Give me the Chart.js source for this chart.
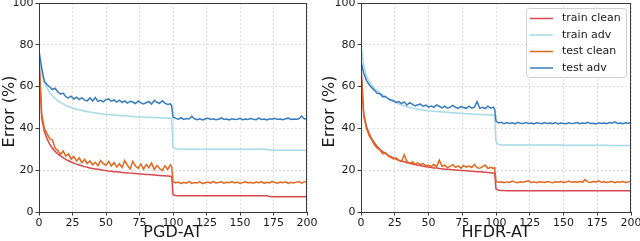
<!DOCTYPE html>
<html>
<head>
<meta charset="utf-8">
<script src="https://cdn.jsdelivr.net/npm/chart.js@4.4.0/dist/chart.umd.min.js"></script>
<style>
  html, body { margin: 0; padding: 0; background: #fff; }
  #wrap { position: relative; width: 640px; height: 241px; }
  #wrap canvas { position: absolute; top: 0; }
</style>
</head>
<body>
<div id="wrap">
  <canvas id="chartPgd" width="320" height="241" style="left:0"></canvas>
  <canvas id="chartHfdr" width="320" height="241" style="left:320px"></canvas>
</div>
<script>
// epochs (every 2, plus 99 just before the lr drop)
const EPOCHS = [0,2,4,6,8,10,12,14,16,18,20,22,24,26,28,30,32,34,36,38,40,42,44,46,48,50,52,54,56,58,60,62,64,66,68,70,72,74,76,78,80,82,84,86,88,90,92,94,96,98,99,
  100,102,104,106,108,110,112,114,116,118,120,122,124,126,128,130,132,134,136,138,140,142,144,146,148,150,152,154,156,158,160,162,164,166,168,170,172,174,176,178,180,182,184,186,188,190,192,194,196,198,200];

const SERIES_NAMES = ['train clean', 'train adv', 'test clean', 'test adv'];
const X_TICKS = [0, 25, 50, 75, 100, 125, 150, 175, 200];
const Y_TICKS = [0, 20, 40, 60, 80, 100];

// PGD-AT
const pgdTrainClean = [74,45,38.5,35,32.5,30.5,29,27.8,26.8,26,
  25.2,24.5,23.9,23.4,22.9,22.5,22.1,21.7,21.4,21.1,
  20.8,20.6,20.4,20.2,20,19.8,19.6,19.5,19.3,19.2,
  19.1,18.9,18.8,18.7,18.6,18.5,18.4,18.3,18.2,18.1,
  18,17.9,17.8,17.7,17.6,17.5,17.4,17.3,17.2,17.1,17.0,
  8.2,7.9,7.8,7.8,7.8,7.8,7.8,7.8,7.8,7.8,
  7.8,7.8,7.8,7.8,7.8,7.8,7.8,7.8,7.8,7.8,
  7.8,7.8,7.8,7.8,7.8,7.8,7.8,7.8,7.8,7.8,
  7.8,7.8,7.8,7.8,7.8,7.8,7.4,7.3,7.3,7.3,
  7.3,7.3,7.3,7.3,7.3,7.3,7.3,7.3,7.3,7.3,7.3];
const pgdTrainAdv = [76,66,62,59.3,57.2,55.6,54.3,53.3,52.4,51.7,
  51,50.5,50,49.6,49.2,48.9,48.6,48.3,48,47.8,
  47.6,47.4,47.2,47,46.9,46.7,46.6,46.5,46.4,46.3,
  46.2,46.1,46,45.9,45.8,45.7,45.6,45.5,45.5,45.4,
  45.3,45.3,45.2,45.2,45.1,45.1,45,45,45,44.9,44.9,
  31,30.2,30.1,30.1,30,30,30,30,30,30,
  30,30,30,30,30,30,30,30,30,30,
  30,30,30,30,30,30,30,30,30,30,
  30,30,30,30,30,30,29.6,29.5,29.5,29.5,
  29.5,29.5,29.5,29.5,29.5,29.5,29.5,29.5,29.5,29.5,29.5];
const pgdTestClean = [72,47,40,37.5,35,34.5,30.5,29.5,27.5,29.2,
  26.8,27.8,25.3,26.6,24.4,25.9,23.6,25.2,23.2,24.4,
  22.6,23.8,22.2,24.6,23.1,22.4,24.2,22.0,23.6,21.5,
  23.1,21.3,24.6,22.3,20.6,24.3,22.0,20.9,23.0,20.5,
  22.7,21.2,23.5,20.3,22.3,20.8,19.9,22.1,20.4,22.6,21.8,
  14.6,13.9,14.3,13.6,14.2,13.8,14.5,13.7,14.1,13.9,
  14.4,13.6,14.0,14.3,13.8,14.6,13.9,14.1,14.5,13.8,
  14.2,14.0,14.6,13.9,14.3,13.7,14.1,14.4,13.9,14.2,
  13.8,14.3,14.0,14.5,13.7,14.2,13.9,14.6,14.1,13.8,
  14.3,14.0,14.4,13.7,14.2,13.9,14.3,14.6,13.8,14.4,14.6];
const pgdTestAdv = [77,69,62.5,61,59.8,58.6,59.2,57.5,56.4,56.9,
  55.2,54.6,55.4,54.1,54.9,53.8,54.7,53.5,53.2,54.6,
  53.1,54.8,52.9,53.4,52.7,53.9,54.1,53.0,53.6,52.6,
  53.5,52.4,53.2,52.1,53.0,52.6,51.9,53.1,52.2,51.7,
  52.3,52.8,51.6,53.4,52.5,52.0,53.2,52.1,51.5,51.8,50.8,
  45.5,44.8,44.4,45.1,44.3,44.7,44.5,45.8,44.6,44.2,
  44.6,44.1,44.5,44.9,44.3,44.6,44.2,44.4,45.0,44.3,
  44.5,44.1,44.6,44.3,44.4,44.8,44.2,44.5,44.3,44.7,
  44.4,44.2,44.9,44.3,44.5,44.1,44.6,44.4,44.8,44.3,
  44.5,44.2,44.6,44.9,44.3,44.5,44.4,44.6,45.9,44.5,44.7];

// HFDR-AT
const hfdrTrainClean = [70,47,41,37.5,35,33,31.3,30,28.9,28,
  27.2,26.5,25.9,25.3,24.8,24.4,24,23.6,23.3,23,
  22.7,22.4,22.2,21.9,21.7,21.5,21.3,21.1,21,20.8,
  20.7,20.5,20.4,20.3,20.2,20.1,20,19.9,19.8,19.7,
  19.6,19.5,19.4,19.3,19.2,19.1,19,18.9,18.8,18.7,18.6,
  11.0,10.4,10.3,10.3,10.2,10.2,10.2,10.2,10.2,10.2,
  10.2,10.2,10.2,10.2,10.2,10.2,10.2,10.2,10.2,10.2,
  10.2,10.2,10.2,10.2,10.2,10.2,10.2,10.2,10.2,10.2,
  10.2,10.2,10.2,10.2,10.2,10.2,10.2,10.2,10.2,10.2,
  10.2,10.2,10.2,10.2,10.2,10.2,10.2,10.2,10.2,10.2,10.2];
const hfdrTrainAdv = [80,70,65,62.5,60.6,59.1,58,57,56,55.2,
  54.4,53.7,53,52.3,51.7,51.2,50.8,50.4,50,49.7,
  49.4,49.2,49,48.8,48.6,48.5,48.3,48.2,48.1,48,
  47.9,47.8,47.7,47.6,47.5,47.4,47.3,47.2,47.1,47,
  46.9,46.9,46.8,46.7,46.7,46.6,46.5,46.5,46.4,46.3,46.2,
  33.5,32.3,32.1,32.0,32.0,32.0,32.0,32.0,32.0,32.0,
  32.0,32.0,32.0,32.0,32.0,32.0,32.0,32.0,32.0,32.0,
  32.0,32.0,32.0,32.0,32.0,31.9,31.9,31.9,31.9,31.9,
  31.9,31.9,31.9,31.9,31.9,31.9,31.9,31.9,31.9,31.9,
  31.9,31.9,31.8,31.8,31.8,31.8,31.8,31.8,31.8,31.8,31.8];
const hfdrTestClean = [68,46,40,36.5,34.5,32,30.5,29.8,28,28.5,
  26.8,26.2,25.4,25.9,24.6,24.2,27.4,24.1,23.3,24.0,
  22.9,23.5,22.6,23.2,22.1,22.4,21.8,22.7,21.6,24.8,
  21.9,22.4,21.2,21.8,22.6,21.4,22.1,21.0,22.3,21.5,
  22.0,21.3,22.8,21.2,20.9,21.7,22.5,20.8,21.4,20.9,21.2,
  14.6,14.2,14.5,14.0,14.4,14.1,14.8,14.3,14.0,14.5,
  14.2,14.6,14.9,14.1,14.4,14.0,14.5,14.3,14.1,14.6,
  14.3,14.0,14.5,14.2,14.6,14.1,14.4,14.8,14.2,14.5,
  14.3,14.6,14.2,15.5,14.4,14.1,14.6,14.3,14.9,14.2,
  14.5,14.1,14.4,14.7,14.0,14.5,14.2,14.6,14.1,14.3,14.8];
const hfdrTestAdv = [72,66.5,63,61,59.5,58.2,56.8,56.6,55.2,55.3,
  54.2,53.6,53.2,52.4,52.8,51.9,52.7,51.2,52.3,51.6,
  50.8,51.3,51.6,50.6,51.1,50.2,50.7,50.1,51.2,50.6,
  49.8,50.6,49.7,50.2,51.0,50.1,49.6,50.5,50.0,49.6,
  50.6,49.7,50.2,52.8,49.6,50.1,49.5,50.6,49.7,50.2,49.2,
  43.5,42.6,42.9,42.3,42.8,42.4,42.7,42.2,42.9,42.5,
  42.3,42.8,42.4,42.6,42.1,42.7,42.5,42.2,42.8,42.4,
  42.6,42.3,42.8,42.1,42.6,42.4,42.2,42.7,42.3,42.5,
  42.8,42.2,42.6,42.4,42.9,42.3,42.5,42.1,42.7,42.4,
  42.6,42.3,42.8,42.5,43.1,42.4,42.6,42.2,42.7,42.5,42.8];

const COLORS = ['#d6494e', '#a6dae8', '#e3671f', '#387cbf'];
const FONT = 'DejaVu Sans';
const TEXT_COLOR = '#1a1a1a';
const Y_TITLE = 'Error (%)';

// box around the plot area, like matplotlib spines
const framePlugin = {
    id: 'frame',
    afterDatasetsDraw(chart) {
        const { ctx, chartArea: a } = chart;
        ctx.save();
        ctx.strokeStyle = '#3a3a3a';
        ctx.lineWidth = 1;
        ctx.strokeRect(Math.round(a.left) + 0.5, Math.round(a.top) + 0.5,
            Math.round(a.right - a.left) - 1, Math.round(a.bottom - a.top));
        ctx.restore();
    }
};

// y axis title, sits a bit below the plot centre in the original
const yTitlePlugin = {
    id: 'yTitle',
    afterDraw(chart) {
        const { ctx, chartArea: a } = chart;
        ctx.save();
        ctx.translate(9.5, (a.top + a.bottom) / 2 + 4);
        ctx.rotate(-Math.PI / 2);
        ctx.font = '16px "' + FONT + '"';
        ctx.fillStyle = TEXT_COLOR;
        ctx.textAlign = 'center';
        ctx.textBaseline = 'middle';
        ctx.fillText(Y_TITLE, 0, 0);
        ctx.restore();
    }
};

// legend drawn inside the plot, upper right
const innerLegendPlugin = {
    id: 'innerLegend',
    afterDraw(chart, args, opts) {
        if (!opts.show) return;
        const { ctx, chartArea: a } = chart;
        const w = 100, h = 69;
        const x = a.right - 5 - w, y = a.top + 5;
        ctx.save();
        ctx.beginPath();
        ctx.roundRect(x + 0.5, y + 0.5, w, h, 3);
        ctx.fillStyle = 'rgba(255,255,255,0.85)';
        ctx.fill();
        ctx.strokeStyle = '#d0d0d0';
        ctx.lineWidth = 1;
        ctx.stroke();
        ctx.font = '11px "' + FONT + '"';
        ctx.textBaseline = 'middle';
        ctx.textAlign = 'left';
        chart.data.datasets.forEach((ds, i) => {
            const rowY = y + 10.5 + i * 16.5;
            ctx.strokeStyle = ds.borderColor;
            ctx.lineWidth = 1.5;
            ctx.beginPath();
            ctx.moveTo(x + 4, rowY);
            ctx.lineTo(x + 27, rowY);
            ctx.stroke();
            ctx.fillStyle = TEXT_COLOR;
            ctx.fillText(ds.label, x + 36, rowY);
        });
        ctx.restore();
    }
};

function makeDatasets(series) {
    return SERIES_NAMES.map((name, i) => ({
        label: name,
        data: EPOCHS.map((e, j) => ({ x: e, y: series[i][j] })),
        borderColor: COLORS[i],
        backgroundColor: COLORS[i],
        borderWidth: 1.5,
        pointRadius: 0,
        tension: 0,
        order: 3 - i
    }));
}

function buildChart(canvasId, title, series, box, showLegend) {
    const tickFont = { family: FONT, size: 11 };
    const titleFont = { family: FONT, size: 16, lineHeight: 1 };
    return new Chart(document.getElementById(canvasId), {
        type: 'line',
        data: { datasets: makeDatasets(series) },
        options: {
            responsive: false,
            animation: false,
            layout: { padding: { top: 3, right: box.right, left: 0, bottom: 0 } },
            plugins: {
                legend: { display: false },
                tooltip: { enabled: false },
                innerLegend: { show: showLegend }
            },
            scales: {
                x: {
                    type: 'linear',
                    min: 0,
                    max: 200,
                    afterBuildTicks: s => { s.ticks = X_TICKS.map(v => ({ value: v })); },
                    ticks: { font: tickFont, color: TEXT_COLOR, padding: 1, maxRotation: 0 },
                    grid: { color: '#e0e0e0', tickColor: '#3a3a3a', tickLength: 3.5, tickBorderDash: [] },
                    border: { display: false, dash: [2, 2] },
                    title: { display: true, text: title, font: titleFont, color: TEXT_COLOR, padding: { top: 0, bottom: 0.5 } },
                    afterFit: s => { s.height = 29; s.paddingLeft = 0; s.paddingRight = 0; }
                },
                y: {
                    min: 0,
                    max: 100,
                    afterBuildTicks: s => { s.ticks = Y_TICKS.map(v => ({ value: v })); },
                    ticks: { font: tickFont, color: TEXT_COLOR, padding: 2 },
                    grid: { color: '#e0e0e0', tickColor: '#3a3a3a', tickLength: 3.5, tickBorderDash: [] },
                    border: { display: false, dash: [2, 2] },
                    afterFit: s => { s.width = box.left; s.paddingTop = 0; s.paddingBottom = 0; }
                }
            }
        },
        plugins: [framePlugin, yTitlePlugin, innerLegendPlugin]
    });
}

buildChart('chartPgd', 'PGD-AT', [pgdTrainClean, pgdTrainAdv, pgdTestClean, pgdTestAdv], { left: 39, right: 13 }, false);
buildChart('chartHfdr', 'HFDR-AT', [hfdrTrainClean, hfdrTrainAdv, hfdrTestClean, hfdrTestAdv], { left: 41, right: 9 }, true);
</script>
</body>
</html>
